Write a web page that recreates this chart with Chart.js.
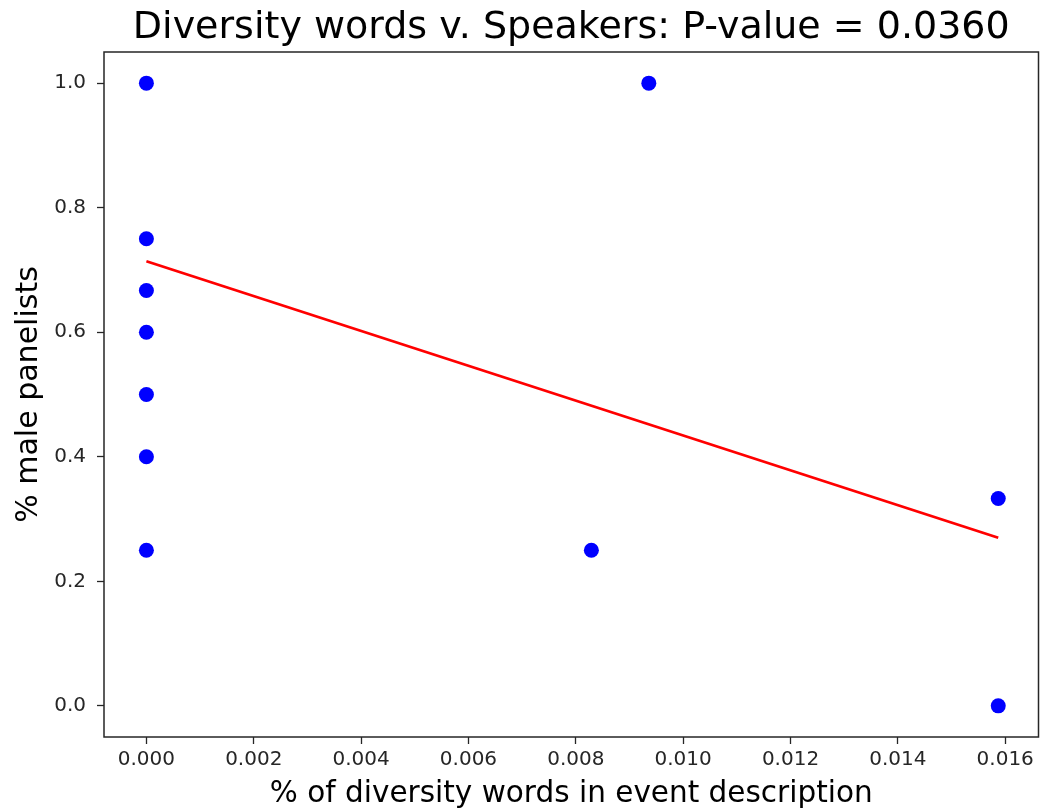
<!DOCTYPE html>
<html>
<head>
<meta charset="utf-8">
<script src="https://cdn.jsdelivr.net/npm/chart.js@4"></script>
<style>
  body { margin: 0; background: #fff; }
  canvas { display: block; }
</style>
</head>
<body>
<canvas id="grafico" width="1041" height="812"></canvas>
<script>
// datos
const titulo = 'Diversity words v. Speakers: P-value = 0.0360';
const etiquetaX = '% of diversity words in event description';
const etiquetaY = '% male panelists';

const puntosX = [0, 0, 0, 0, 0, 0, 0, 0.00936, 0.00829, 0.01587, 0.01587];
const puntosY = [1.0, 0.75, 0.667, 0.6, 0.5, 0.4, 0.25, 1.0, 0.25, 0.333, 0.0];

// recta de regresion (extremos)
const rectaX = [0, 0.01587];
const rectaY = [0.714, 0.270];

const ticksX = [0, 0.002, 0.004, 0.006, 0.008, 0.010, 0.012, 0.014, 0.016];
const ticksY = [0, 0.2, 0.4, 0.6, 0.8, 1.0];

const fuente = 'DejaVu Sans';

// caja completa alrededor del area + titulo centrado sobre los ejes (como matplotlib)
const marco = {
    id: 'marco',
    afterDatasetsDraw(chart) {
        const { ctx, chartArea: a } = chart;
        ctx.save();
        ctx.strokeStyle = '#262626';
        ctx.lineWidth = 1.5;
        ctx.strokeRect(a.left, a.top, a.right - a.left, a.bottom - a.top);
        ctx.fillStyle = '#000';
        ctx.font = `38px "${fuente}"`;
        ctx.textAlign = 'center';
        ctx.textBaseline = 'alphabetic';
        ctx.fillText(titulo, (a.left + a.right) / 2, 37.5);
        ctx.restore();
    }
};

new Chart(document.getElementById('grafico'), {
    data: {
        datasets: [
            {
                type: 'line',
                data: rectaX.map((x, i) => ({ x: x, y: rectaY[i] })),
                borderColor: '#ff0000',
                borderWidth: 2.8,
                pointRadius: 0,
                fill: false
            },
            {
                type: 'scatter',
                data: puntosX.map((x, i) => ({ x: x, y: puntosY[i] })),
                backgroundColor: '#0000ff',
                borderWidth: 0,
                pointRadius: 7.5
            }
        ]
    },
    plugins: [marco],
    options: {
        responsive: false,
        animation: false,
        layout: { autoPadding: false, padding: { top: 52, right: 2.5 } },
        plugins: {
            legend: { display: false },
            tooltip: { enabled: false },
            title: { display: false }
        },
        scales: {
            x: {
                type: 'linear',
                min: -0.00079,
                max: 0.01662,
                afterBuildTicks: s => { s.ticks = ticksX.map(v => ({ value: v })); },
                afterFit: s => { s.height = 75; s.paddingLeft = 0; s.paddingRight = 0; },
                border: { display: false },
                grid: { drawOnChartArea: false, drawTicks: true, tickLength: 7, color: '#262626', tickWidth: 1.3 },
                ticks: {
                    color: '#262626',
                    font: { family: fuente, size: 20 },
                    padding: 4,
                    maxRotation: 0,
                    callback: v => v.toFixed(3)
                },
                title: {
                    display: true,
                    text: etiquetaX,
                    color: '#000',
                    font: { family: fuente, size: 29.5 },
                    padding: { top: 0, bottom: 0 }
                }
            },
            y: {
                type: 'linear',
                min: -0.05,
                max: 1.05,
                afterBuildTicks: s => { s.ticks = ticksY.map(v => ({ value: v })); },
                afterFit: s => { s.width = 104; },
                border: { display: false },
                grid: { drawOnChartArea: false, drawTicks: true, tickLength: 7, color: '#262626', tickWidth: 1.3 },
                ticks: {
                    color: '#262626',
                    font: { family: fuente, size: 20 },
                    padding: 11,
                    callback: v => v.toFixed(1)
                },
                title: {
                    display: true,
                    text: etiquetaY,
                    color: '#000',
                    font: { family: fuente, size: 30 },
                    padding: { top: 11, bottom: 0 }
                }
            }
        }
    }
});
</script>
</body>
</html>
